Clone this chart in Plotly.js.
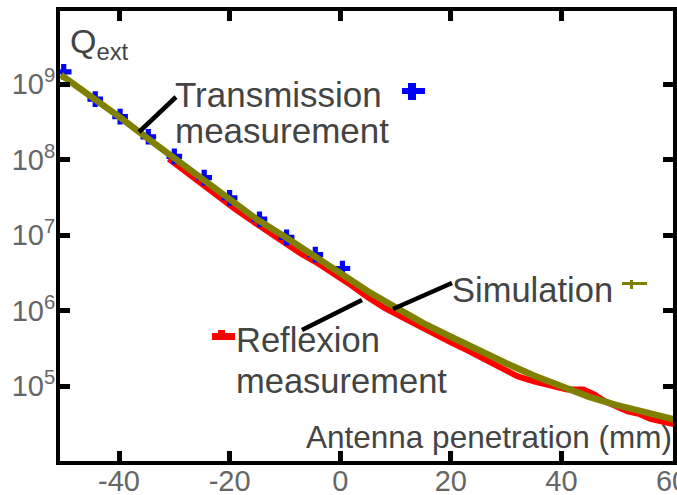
<!DOCTYPE html>
<html>
<head>
<meta charset="utf-8">
<script src="https://cdn.plot.ly/plotly-3.0.1.min.js"></script>
<style>html,body{margin:0;padding:0;background:#fff;}#chart{width:677px;height:495px;}</style>
</head>
<body>
<div id="chart"></div>
<script>
// Simulation (olive line)
var simX = [-50.5,-45,-40,-35,-30,-25,-20,-15,-10,-5,0,5,10,15,20,25,30,35,40,45,50,55,60.5];
var simQ = [1.32e9,6.9e8,3.7e8,1.95e8,1.05e8,5.4e7,2.9e7,1.6e7,9.5e6,5.4e6,3.2e6,1.8e6,1.1e6,6.8e5,4.5e5,2.95e5,2.0e5,1.38e5,9.8e4,7.2e4,5.6e4,4.5e4,3.6e4];
// Reflexion measurement (red)
var reflX = [-31,-28,-25,-22,-19,-16,-13,-10,-7,-4,-1,2,5,8,11,14,17,20,23,26,29,32,35,38,41,44,46,48,50,52,54,56,58,60.5];
var reflQ = [1.02e8,6.9e7,4.6e7,3.1e7,2.2e7,1.55e7,1.1e7,7.9e6,5.6e6,4.2e6,3.06e6,2.16e6,1.5e6,1.08e6,8.3e5,6.3e5,4.9e5,3.8e5,2.97e5,2.3e5,1.75e5,1.35e5,1.15e5,1.0e5,9.0e4,9.0e4,7.7e4,6.2e4,5.25e4,4.6e4,4.3e4,3.7e4,3.4e4,3.1e4];
// Transmission measurement (blue crosses)
var transX = [-50,-44.3,-39.8,-34.7,-30,-24.6,-20,-14.6,-9.7,-4.5,0.4];
var transQ = [1.45e9,6.3e8,3.7e8,2.0e8,1.1e8,5.75e7,3.1e7,1.62e7,9.3e6,5.5e6,3.6e6];
// Tick labels
var xTickVals = [-40,-20,0,20,40,60];
var xTickText = ['-40','-20','0','20','40','60'];
var yTickVals = [1e4,1e5,1e6,1e7,1e8,1e9];
var yTickText = ['10<sup>4</sup>','10<sup>5</sup>','10<sup>6</sup>','10<sup>7</sup>','10<sup>8</sup>','10<sup>9</sup>'];

var W = 677, H = 495;
var M = {l:60, r:4, t:11, b:34};
var PW = W - M.l - M.r, PH = H - M.t - M.b;
function px(x){ return (x - M.l) / PW; }
function py(y){ return (H - M.b - y) / PH; }

var FONT = 'Liberation Sans, Arial, Helvetica, sans-serif';

var traces = [
  {x: reflX, y: reflQ, mode: 'lines', line: {color: '#ff0000', width: 6}, hoverinfo: 'skip'},
  {x: transX, y: transQ, mode: 'markers', marker: {symbol: 'cross', size: 13, color: '#0000ff'}, hoverinfo: 'skip'},
  {x: simX, y: simQ, mode: 'lines', line: {color: '#808000', width: 6.5}, hoverinfo: 'skip'}
];

function ann(text, x, y, size, anchor){
  return {text: text, xref: 'paper', yref: 'paper', x: px(x), y: py(y), xanchor: anchor || 'left', yanchor: 'middle',
    showarrow: false, font: {family: FONT, size: size, color: '#444'}, borderpad: 0};
}
function line(x0,y0,x1,y1,color,w){
  return {type:'line', xref:'paper', yref:'paper', x0:px(x0), y0:py(y0), x1:px(x1), y1:py(y1), line:{color:color, width:w}};
}
function rect(x0,y0,x1,y1,color){
  return {type:'rect', xref:'paper', yref:'paper', x0:px(x0), y0:py(y0), x1:px(x1), y1:py(y1), fillcolor:color, line:{width:0}};
}

var layout = {
  width: W, height: H,
  margin: M,
  paper_bgcolor: '#fff', plot_bgcolor: '#fff',
  showlegend: false,
  font: {family: FONT},
  xaxis: {
    range: [-50.67, 60.18], showgrid: false, zeroline: false,
    showline: true, linewidth: 4, linecolor: '#000', mirror: 'ticks',
    ticks: 'inside', ticklen: 10, tickwidth: 5, tickcolor: '#000',
    tickvals: xTickVals, ticktext: xTickText, ticklabelstandoff: -9,
    ticklabeloverflow: 'allow',
    tickfont: {family: FONT, size: 29, color: '#666'}
  },
  yaxis: {
    type: 'log', range: [4.007, 9.967], showgrid: false, zeroline: false,
    showline: true, linewidth: 4, linecolor: '#000', mirror: 'ticks',
    ticks: 'inside', ticklen: 10, tickwidth: 5, tickcolor: '#000',
    tickvals: yTickVals, ticktext: yTickText, ticklabelstandoff: -5,
    ticklabeloverflow: 'allow',
    tickfont: {family: FONT, size: 29, color: '#666'}
  },
  annotations: [
    ann('Q<sub>ext</sub>', 69, 43, 34),
    ann('Transmission', 174, 95, 35),
    ann('measurement', 174, 130, 35),
    ann('Simulation', 451, 290, 34.5),
    ann('Reflexion', 235, 340, 34.5),
    ann('measurement', 235, 381, 34.5),
    ann('Antenna penetration (mm)', 305, 437, 31.5)
  ],
  shapes: [
    line(139,132,176,97,'#000',4.5),
    line(302,330,362,300,'#000',4.5),
    line(393,309,452,283,'#000',4.5),
    rect(408,83,416,100,'#0000ff'),
    rect(402,88,425,94,'#0000ff'),
    rect(212,333,235,340,'#ff0000'),
    rect(218,330,225,333,'#ff0000'),
    line(622,283.5,647,283.5,'#808000',3),
    line(631.5,280,631.5,289,'#808000',3)
  ]
};

Plotly.newPlot('chart', traces, layout, {displayModeBar: false, staticPlot: true});
</script>
</body>
</html>
